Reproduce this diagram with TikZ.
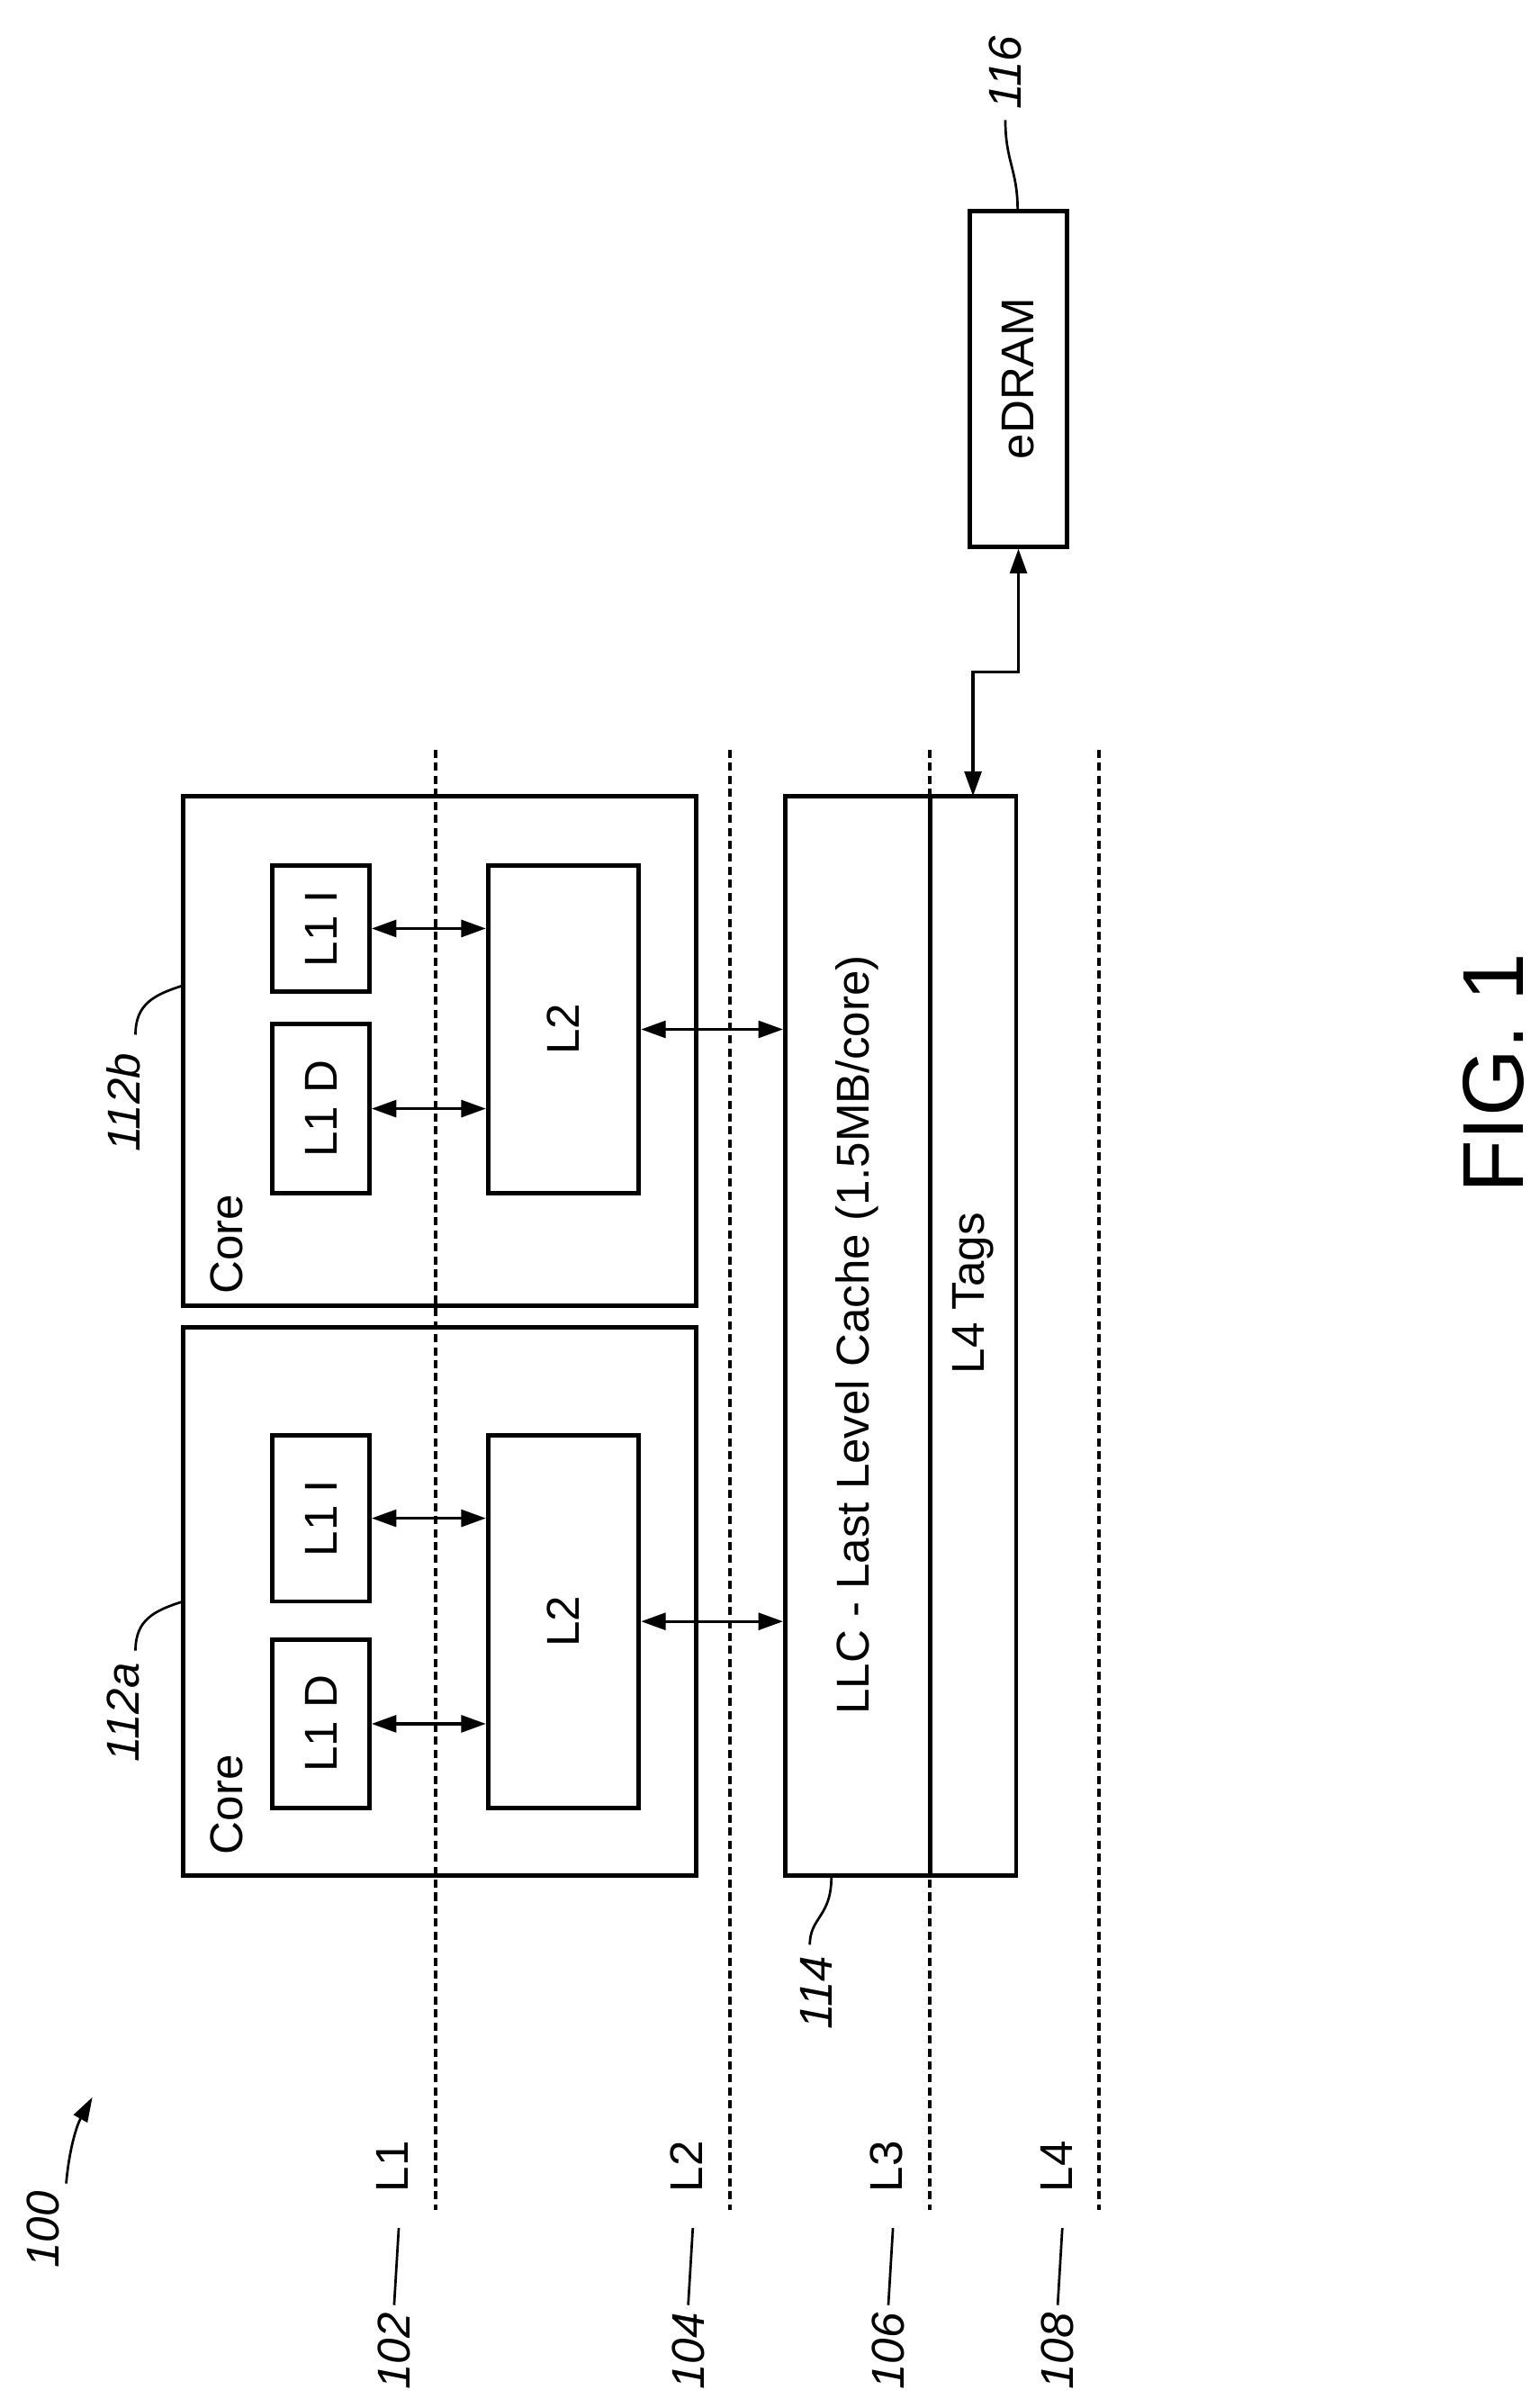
\documentclass[tikz,border=0pt]{standalone}
\usepackage{fontspec}
\setmainfont{Liberation Sans}
\usepackage{tikz}
\usetikzlibrary{arrows.meta}

\tikzset{
  box/.style={draw, line width=1.6pt, inner sep=0pt, font=\fontsize{17}{20}\selectfont},
  link/.style={<->, >={Triangle[length=3.2mm,width=2.2mm]}, line width=1.1pt},
  level/.style={dashed, dash pattern=on 3pt off 1.8pt, line width=1.4pt},
  tag/.style={font=\fontsize{17}{20}\selectfont\itshape, inner sep=0pt},
  lead/.style={line width=0.9pt}
}

\begin{document}
\begin{tikzpicture}[x=0.02cm, y=-0.02cm]
		\useasboundingbox (0,0) rectangle (1000,1558);

		% cache levels
		\foreach \x/\lvl/\num in {283/L1/102, 474/L2/104, 604/L3/106, 714/L4/108} {
			\draw[level] (\x,487) -- (\x,1435);
			\node[box, draw=none, rotate=90] (lvl\lvl) at (\x-28,1407) {\lvl};
			\node[tag, rotate=90] (n\num) at (\x-27,1527) {\num};
			\draw[lead] (\x-24,1447) -- (\x-27,1497);
		}

		% two cores
		\node[box, minimum width=6.66cm, minimum height=7.12cm] (corea) at (285.5,1040) {};
		\node[box, minimum width=6.66cm, minimum height=6.62cm] (coreb) at (285.5,682.5) {};
		\node[box, draw=none, rotate=90] (corealbl) at (147,1172) {Core};
		\node[box, draw=none, rotate=90] (coreblbl) at (147,808) {Core};

		\node[box, minimum width=1.26cm, minimum height=2.18cm] (l1da) at (208.5,1119.5) {\rotatebox{90}{L1 D}};
		\node[box, minimum width=1.26cm, minimum height=2.16cm] (l1ia) at (208.5,986) {\rotatebox{90}{L1 I}};
		\node[box, minimum width=1.96cm, minimum height=4.84cm] (l2a) at (366,1053) {\rotatebox{90}{L2}};
		\node[box, minimum width=1.26cm, minimum height=2.2cm] (l1db) at (208.5,720) {\rotatebox{90}{L1 D}};
		\node[box, minimum width=1.26cm, minimum height=1.64cm] (l1ib) at (208.5,603) {\rotatebox{90}{L1 I}};
		\node[box, minimum width=1.96cm, minimum height=4.26cm] (l2b) at (366,668.5) {\rotatebox{90}{L2}};

		% last level cache and eDRAM
		\node[box, minimum width=3cm, minimum height=14.02cm] (llc) at (585,867.5) {};
		\draw[line width=1.6pt] (604,517) -- (604,1218);
		\node[box, draw=none, rotate=90] (llclbl) at (557,867) {LLC - Last Level Cache (1.5MB/core)};
		\node[box, draw=none, rotate=90] (tagslbl) at (632,840) {L4 Tags};
		\node[box, minimum width=1.26cm, minimum height=4.36cm] (edram) at (661.5,246) {\rotatebox{90}{eDRAM}};
		\coordinate (tap) at (632,517);

		\draw[link] (l1da.east) -- (l1da.east -| l2a.west);
		\draw[link] (l1ia.east) -- (l1ia.east -| l2a.west);
		\draw[link] (l1db.east) -- (l1db.east -| l2b.west);
		\draw[link] (l1ib.east) -- (l1ib.east -| l2b.west);
		\draw[link] (l2a.east) -- (l2a.east -| llc.west);
		\draw[link] (l2b.east) -- (l2b.east -| llc.west);
		\draw[link] (edram.south) -- ++(0,80) -| (tap);

		% reference numerals
		\node[tag, rotate=90] (n112a) at (80,1112) {112\textit{a}};
		\node[tag, rotate=90] (n112b) at (80,716) {112\textit{b}};
		\node[tag, rotate=90] (n114) at (530,1294) {114};
		\node[tag, rotate=90] (n116) at (653,47) {116};
		\node[tag, rotate=90] (n100) at (28,1448) {100};
		\draw[lead] (119,1040) .. controls (100,1046) and (88,1052) .. (88,1072);
		\draw[lead] (119,640) .. controls (100,646) and (88,652) .. (88,672);
		\draw[lead] (540,1219) .. controls (540,1245) and (526,1245) .. (526,1263);
		\draw[lead] (661,137) .. controls (661,110) and (653,105) .. (653,78);
		\draw[lead, ->, >={Triangle[length=3.2mm,width=2mm]}] (43,1418) .. controls (45,1395) and (50,1380) .. (60,1362);

		\node[font=\fontsize{32}{36}\selectfont, rotate=90] (fig) at (970,697) {FIG. 1};
	\end{tikzpicture}
\end{document}
